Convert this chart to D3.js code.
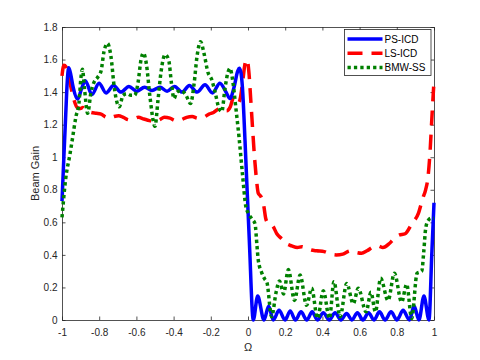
<!DOCTYPE html>
<html>
<head>
<meta charset="utf-8">
<script src="https://cdn.jsdelivr.net/npm/d3@7"></script>
<style>
body { margin: 0; background: #fff; }
svg { display: block; font-family: "Liberation Sans", Arial, sans-serif; }
</style>
</head>
<body>
<div id="chart"></div>
<script>
// PS-ICD (blue, solid)
var omegaPS = [-1.000, -0.990, -0.980, -0.972, -0.964, -0.955, -0.940, -0.916, -0.895, -0.875,
	-0.839, -0.801, -0.763, -0.723, -0.683, -0.640, -0.599, -0.556, -0.516, -0.473,
	-0.435, -0.395, -0.355, -0.315, -0.274, -0.231, -0.191, -0.151, -0.118, -0.097,
	-0.075, -0.055, -0.047, -0.038, -0.030, -0.016, 0.007, 0.0285,
	0.052, 0.086, 0.111, 0.136, 0.167, 0.199, 0.227, 0.255, 0.285, 0.316,
	0.345, 0.373, 0.405, 0.437, 0.468, 0.500, 0.530, 0.559, 0.588, 0.618,
	0.648, 0.677, 0.707, 0.737, 0.769, 0.801, 0.834, 0.868, 0.893, 0.919,
	0.946, 0.973, 0.988, 1.000];
var gainPS = [0.73, 1.00, 1.26, 1.46, 1.55, 1.52, 1.43, 1.357, 1.42, 1.47,
	1.385, 1.455, 1.395, 1.44, 1.40, 1.435, 1.405, 1.43, 1.41, 1.43,
	1.405, 1.435, 1.40, 1.44, 1.40, 1.445, 1.395, 1.455, 1.40, 1.36,
	1.43, 1.53, 1.546, 1.52, 1.43, 1.10, 0.49, 0,
	0.147, 0, 0.085, 0, 0.06, 0, 0.055, 0, 0.05, 0,
	0.05, 0, 0.045, 0, 0.045, 0, 0.04, 0, 0.045, 0,
	0.045, 0, 0.05, 0, 0.05, 0, 0.06, 0, 0.086, 0,
	0.147, 0, 0.40, 0.72];

// LS-ICD (red, dashed)
var omegaLS = [-1.000, -0.990, -0.978, -0.965, -0.950, -0.935, -0.918, -0.900, -0.888, -0.870,
	-0.845, -0.815, -0.790, -0.770, -0.745, -0.720, -0.695, -0.670, -0.640, -0.615,
	-0.590, -0.560, -0.530, -0.500, -0.475, -0.450, -0.420, -0.390, -0.360, -0.330,
	-0.300, -0.270, -0.240, -0.210, -0.185, -0.160, -0.135, -0.115, -0.095, -0.080,
	-0.065, -0.050, -0.040, -0.028, -0.015, -0.005, 0.005, 0.015, 0.025, 0.035,
	0.045, 0.055, 0.065, 0.075, 0.085, 0.095, 0.105, 0.120, 0.135, 0.155,
	0.180, 0.205, 0.235, 0.265, 0.290, 0.315, 0.340, 0.370, 0.410, 0.445,
	0.475, 0.510, 0.550, 0.580, 0.610, 0.640, 0.675, 0.700, 0.725, 0.760,
	0.785, 0.810, 0.845, 0.880, 0.916, 0.940, 0.955, 0.968, 0.978, 0.989,
	1.000];
var gainLS = [1.50, 1.565, 1.555, 1.50, 1.42, 1.35, 1.305, 1.30, 1.305, 1.285,
	1.275, 1.27, 1.265, 1.25, 1.24, 1.25, 1.255, 1.245, 1.23, 1.235,
	1.245, 1.235, 1.225, 1.22, 1.23, 1.245, 1.24, 1.225, 1.23, 1.245,
	1.25, 1.24, 1.245, 1.265, 1.275, 1.295, 1.30, 1.285, 1.31, 1.36,
	1.365, 1.335, 1.37, 1.47, 1.58, 1.60, 1.52, 1.35, 1.17, 1.00,
	0.87, 0.78, 0.765, 0.745, 0.70, 0.625, 0.60, 0.595, 0.575, 0.53,
	0.50, 0.47, 0.455, 0.445, 0.45, 0.44, 0.43, 0.425, 0.42, 0.405,
	0.40, 0.405, 0.425, 0.415, 0.41, 0.425, 0.45, 0.455, 0.445, 0.47,
	0.50, 0.52, 0.53, 0.59, 0.655, 0.75, 0.80, 0.88, 1.02, 1.25,
	1.47];

// BMW-SS (green, dotted)
var omegaBMW = [-1.000, -0.981, -0.957, -0.943, -0.925, -0.909, -0.898, -0.890, -0.879, -0.862,
	-0.844, -0.828, -0.809, -0.790, -0.774, -0.755, -0.737, -0.718, -0.692, -0.672,
	-0.651, -0.629, -0.610, -0.591, -0.575, -0.562, -0.546, -0.527, -0.500, -0.484,
	-0.468, -0.446, -0.427, -0.411, -0.398, -0.382, -0.360, -0.333, -0.309, -0.290,
	-0.274, -0.255, -0.237, -0.215, -0.196, -0.177, -0.156, -0.141, -0.124, -0.108,
	-0.097, -0.081, -0.065, -0.048, -0.030, -0.012, 0.002, 0.022, 0.038, 0.048,
	0.055, 0.074, 0.091, 0.102, 0.127, 0.151, 0.169, 0.191, 0.217, 0.250,
	0.280, 0.315, 0.342, 0.374, 0.405, 0.438, 0.462, 0.495, 0.531, 0.566,
	0.593, 0.635, 0.661, 0.685, 0.713, 0.753, 0.787, 0.826, 0.853, 0.880,
	0.909, 0.934, 0.945, 0.955, 0.968, 0.985, 1.000];
var gainBMW = [0.63, 0.86, 1.02, 1.12, 1.25, 1.33, 1.49, 1.54, 1.42, 1.27,
	1.40, 1.46, 1.49, 1.53, 1.65, 1.70, 1.62, 1.42, 1.31, 1.38,
	1.39, 1.38, 1.38, 1.46, 1.60, 1.64, 1.57, 1.37, 1.19, 1.35,
	1.52, 1.63, 1.60, 1.45, 1.36, 1.40, 1.41, 1.38, 1.33, 1.45,
	1.62, 1.71, 1.64, 1.52, 1.48, 1.40, 1.30, 1.28, 1.42, 1.52,
	1.546, 1.46, 1.30, 1.12, 0.90, 0.70, 0.655, 0.62, 0.59, 0.46,
	0.37, 0.29, 0.25, 0.23, 0.02, 0.17, 0.24, 0.16, 0.31, 0.12,
	0.276, 0.09, 0.195, 0.01, 0.18, 0.01, 0.235, 0.02, 0.225, 0.10,
	0.195, 0.05, 0.17, 0.05, 0.256, 0.12, 0.287, 0.11, 0.22, 0.01,
	0.287, 0.30, 0.42, 0.56, 0.61, 0.625, 0.625];

var xTicks = [-1, -0.8, -0.6, -0.4, -0.2, 0, 0.2, 0.4, 0.6, 0.8, 1];
var xTickLabels = ["-1", "-0.8", "-0.6", "-0.4", "-0.2", "0", "0.2", "0.4", "0.6", "0.8", "1"];
var yTicks = [0, 0.2, 0.4, 0.6, 0.8, 1, 1.2, 1.4, 1.6, 1.8];
var yTickLabels = ["0", "0.2", "0.4", "0.6", "0.8", "1", "1.2", "1.4", "1.6", "1.8"];
var seriesNames = ["PS-ICD", "LS-ICD", "BMW-SS"];

var margin = {top: 27, right: 46, bottom: 40, left: 62};
var width = 480 - margin.left - margin.right,
	height = 360 - margin.top - margin.bottom;
var axisColor = "#262626";

var svg = d3.select("#chart").append("svg")
	.attr("width", 480)
	.attr("height", 360);

var g = svg.append("g")
	.attr("transform", "translate(" + margin.left + "," + margin.top + ")");

var x = d3.scaleLinear().domain([-1, 1]).range([0, width]);
var y = d3.scaleLinear().domain([0, 1.8]).range([height, 0]);

function zip(xs, ys) {
	return xs.map(function (d, i) {
		return {o: d, g: ys[i]};
	});
}

var series = [
	{name: seriesNames[1], data: zip(omegaLS, gainLS), color: "#ff0000", dash: "15,9"},
	{name: seriesNames[0], data: zip(omegaPS, gainPS), color: "#0000ff", dash: null},
	{name: seriesNames[2], data: zip(omegaBMW, gainBMW), color: "#008000", dash: "3.3,3.1"}
];

var line = d3.line()
	.x(function (d) { return x(d.o); })
	.y(function (d) { return y(d.g); })
	.curve(d3.curveMonotoneX);

// axes (box with inward ticks on all sides)
g.append("g")
	.attr("class", "axis")
	.attr("transform", "translate(0," + height + ")")
	.call(d3.axisBottom(x).tickValues(xTicks)
		.tickFormat(function (d, i) { return xTickLabels[i]; })
		.tickSizeInner(-3.5).tickSizeOuter(0).tickPadding(9));

g.append("g")
	.attr("class", "axis")
	.call(d3.axisTop(x).tickValues(xTicks).tickFormat("")
		.tickSizeInner(-3.5).tickSizeOuter(0));

g.append("g")
	.attr("class", "axis")
	.call(d3.axisLeft(y).tickValues(yTicks)
		.tickFormat(function (d, i) { return yTickLabels[i]; })
		.tickSizeInner(-3.5).tickSizeOuter(0).tickPadding(4.5));

g.append("g")
	.attr("class", "axis")
	.attr("transform", "translate(" + width + ",0)")
	.call(d3.axisRight(y).tickValues(yTicks).tickFormat("")
		.tickSizeInner(-3.5).tickSizeOuter(0));

g.selectAll(".axis .domain").attr("stroke", axisColor).attr("stroke-width", 0.8);
g.selectAll(".axis .tick line").attr("stroke", axisColor).attr("stroke-width", 0.8);
g.selectAll(".axis text")
	.attr("fill", axisColor)
	.style("font-size", "10px")
	.style("font-family", "'Liberation Sans', Arial, sans-serif");

// curves
g.selectAll(".curve")
	.data(series)
	.enter().append("path")
	.attr("class", "curve")
	.attr("d", function (d) { return line(d.data); })
	.attr("fill", "none")
	.attr("stroke", function (d) { return d.color; })
	.attr("stroke-width", 3.5)
	.attr("stroke-dasharray", function (d) { return d.dash; })
	.attr("stroke-linejoin", "round");

// axis labels
g.append("text")
	.attr("x", width / 2)
	.attr("y", height + 31)
	.attr("text-anchor", "middle")
	.attr("fill", axisColor)
	.style("font-size", "11px")
	.text("\u03A9");

g.append("text")
	.attr("transform", "translate(-23," + (height / 2) + ") rotate(-90)")
	.attr("text-anchor", "middle")
	.attr("fill", axisColor)
	.style("font-size", "11px")
	.text("Beam Gain");

// legend
var legendOrder = [series[1], series[0], series[2]];
var legend = svg.append("g").attr("transform", "translate(344.5,29.5)");
legend.append("rect")
	.attr("width", 86.5)
	.attr("height", 46)
	.attr("fill", "#fff")
	.attr("stroke", axisColor)
	.attr("stroke-width", 0.8);

var items = legend.selectAll(".item")
	.data(legendOrder)
	.enter().append("g")
	.attr("class", "item")
	.attr("transform", function (d, i) { return "translate(0," + (9.5 + i * 14.2) + ")"; });

items.append("line")
	.attr("x1", 3)
	.attr("x2", 38)
	.attr("stroke", function (d) { return d.color; })
	.attr("stroke-width", 3.5)
	.attr("stroke-dasharray", function (d) { return d.dash; });

items.append("text")
	.attr("x", 40)
	.attr("dy", "0.35em")
	.attr("fill", "#000")
	.style("font-size", "10px")
	.text(function (d) { return d.name; });
</script>
</body>
</html>
